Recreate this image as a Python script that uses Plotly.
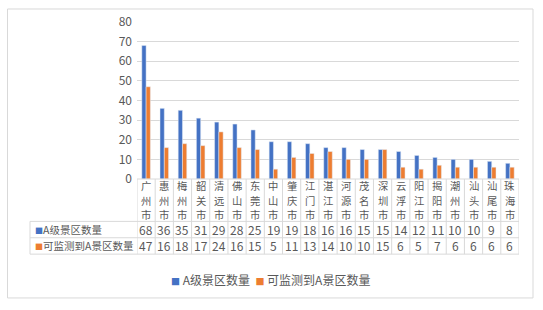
import plotly.graph_objects as go

cities = ["广州市", "惠州市", "梅州市", "韶关市", "清远市", "佛山市", "东莞市", "中山市", "肇庆市", "江门市", "湛江市",
          "河源市", "茂名市", "深圳市", "云浮市", "阳江市", "揭阳市", "潮州市", "汕头市", "汕尾市", "珠海市"]
a_level = [68, 36, 35, 31, 29, 28, 25, 19, 19, 18, 16, 16, 15, 15, 14, 12, 11, 10, 10, 9, 8]
monitored = [47, 16, 18, 17, 24, 16, 15, 5, 11, 13, 14, 10, 10, 15, 6, 5, 7, 6, 6, 6, 6]
series_names = ["A级景区数量", "可监测到A景区数量"]
colors = ["#4472C4", "#ED7D31"]
y_ticks = [0, 10, 20, 30, 40, 50, 60, 70, 80]

W, H = 543, 310
ML, MR, MT, MB = 137, 24, 16, 131
PW, PH = W - ML - MR, H - MT - MB
BOT = MT + PH

def px(x):
    return (x - ML) / PW

def py(y):
    return (BOT - y) / PH

FONT = "Noto Sans CJK SC, Microsoft YaHei, sans-serif"
TXT = "#595959"
GRID = "#d9d9d9"

idx = list(range(len(cities)))
fig = go.Figure()
fig.add_trace(go.Bar(x=idx, y=a_level, name=series_names[0], marker_color=colors[0], showlegend=False))
fig.add_trace(go.Bar(x=idx, y=monitored, name=series_names[1], marker_color=colors[1], showlegend=False))

shapes = []
ann = []
# frame
shapes.append(dict(type="rect", xref="paper", yref="paper", x0=px(7.5), x1=px(533), y0=py(2.5), y1=py(302.5),
                   line=dict(color=GRID, width=1), layer="below"))
# table horizontal lines
shapes.append(dict(type="line", xref="paper", yref="paper", x0=0, x1=1, y0=0, y1=0, line=dict(color=GRID, width=1)))
for yy in [223, 240, 257]:
    shapes.append(dict(type="line", xref="paper", yref="paper", x0=px(30), x1=1, y0=py(yy), y1=py(yy),
                       line=dict(color=GRID, width=1)))
# vertical lines
for i in range(len(cities) + 1):
    shapes.append(dict(type="line", xref="x", yref="paper", x0=i - 0.5, x1=i - 0.5, y0=0, y1=py(257),
                       line=dict(color=GRID, width=1)))
shapes.append(dict(type="line", xref="paper", yref="paper", x0=px(30), x1=px(30), y0=py(223), y1=py(257),
                   line=dict(color=GRID, width=1)))

char_y = [186, 201, 216]
for i, c in enumerate(cities):
    for j, ch in enumerate(c):
        ann.append(dict(x=i, y=py(char_y[j]), xref="x", yref="paper", text=ch, showarrow=False, borderpad=0,
                        font=dict(size=10.3, color=TXT, family=FONT), xanchor="center", yanchor="middle"))
    ann.append(dict(x=i, y=py(231.5), xref="x", yref="paper", text=str(a_level[i]), showarrow=False,
                    font=dict(size=12, color=TXT, family=FONT), xanchor="center", yanchor="middle"))
    ann.append(dict(x=i, y=py(248.5), xref="x", yref="paper", text=str(monitored[i]), showarrow=False,
                    font=dict(size=12, color=TXT, family=FONT), xanchor="center", yanchor="middle"))
for k, yy in enumerate([231.5, 248.5]):
    ann.append(dict(x=px(33), y=py(yy), xref="paper", yref="paper",
                    text=f"<span style='color:{colors[k]};font-size:8px'>■</span>{series_names[k]}",
                    showarrow=False, font=dict(size=10.5, color=TXT, family=FONT), xanchor="left", yanchor="middle"))

# legend
legend_text = (f"<span style='color:{colors[0]};font-size:9px'>■</span> {series_names[0]}  "
               f"<span style='color:{colors[1]};font-size:9px'>■</span> {series_names[1]}")
ann.append(dict(x=px(270), y=py(283), xref="paper", yref="paper", text=legend_text, showarrow=False,
                font=dict(size=12, color=TXT, family=FONT), xanchor="center", yanchor="middle"))

fig.update_layout(
    width=W, height=H, margin=dict(l=ML, r=MR, t=MT, b=MB),
    paper_bgcolor="white", plot_bgcolor="white",
    barmode="group", bargap=0.53, bargroupgap=0,
    font=dict(family=FONT, color=TXT, size=12),
    showlegend=False,
    xaxis=dict(range=[-0.5, len(cities) - 0.5], showticklabels=False, showgrid=False, zeroline=False,
               ticks=""),
    yaxis=dict(range=[0, 80], tickvals=y_ticks, showgrid=True, gridcolor=GRID, gridwidth=1, zeroline=False,
               ticks="", ticklabelstandoff=4, tickfont=dict(size=12, color=TXT, family=FONT), showline=False),
    shapes=shapes, annotations=ann,
)
fig.write_html("out.html")
